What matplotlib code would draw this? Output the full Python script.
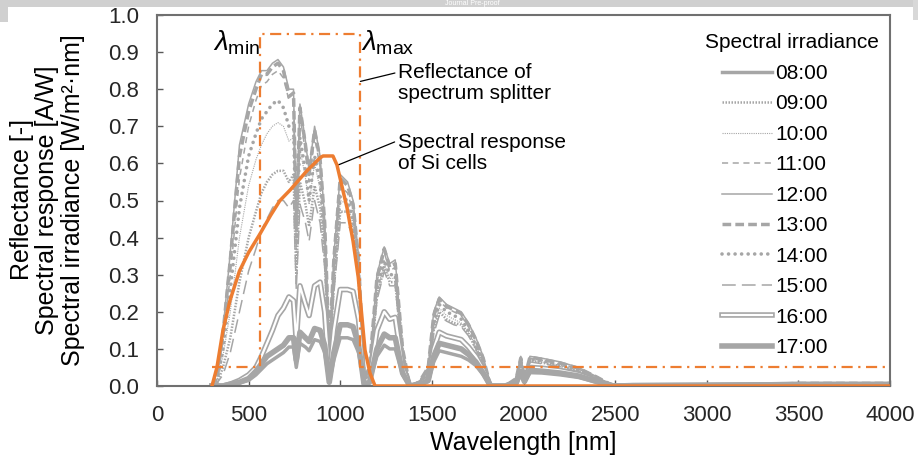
import matplotlib
matplotlib.use("Agg")
import matplotlib.pyplot as plt
from matplotlib.lines import Line2D
from matplotlib.legend_handler import HandlerTuple
from matplotlib.patches import Rectangle

plt.rcParams['font.family'] = ['Liberation Sans', 'DejaVu Sans']
plt.rcParams['mathtext.fontset'] = 'custom'
plt.rcParams['mathtext.rm'] = 'Liberation Sans'
plt.rcParams['mathtext.it'] = 'Liberation Sans:italic'

# ---------------- data ----------------
wavelength = [300, 330, 360, 400, 450, 500, 540, 570, 600, 630,
              660, 690, 720, 745, 760, 780, 810, 830, 860, 890,
              915, 940, 965, 1000, 1040, 1070, 1100, 1130, 1160, 1200,
              1240, 1270, 1300, 1340, 1380, 1430, 1480, 1510, 1540, 1580,
              1620, 1660, 1700, 1740, 1780, 1820, 1900, 1960, 1985, 2005,
              2035, 2100, 2200, 2300, 2400, 2490, 2600, 3000, 3300, 3500,
              4000]

irr_0800 = [0.00, 0.00, 0.00, 0.003, 0.008, 0.015, 0.03, 0.045, 0.06, 0.07,
            0.08, 0.09, 0.105, 0.105, 0.05, 0.115, 0.105, 0.095, 0.125, 0.12,
            0.09, 0.01, 0.07, 0.13, 0.13, 0.125, 0.09, 0.005, 0.01, 0.08,
            0.11, 0.10, 0.10, 0.03, 0.00, 0.003, 0.012, 0.065, 0.095, 0.09,
            0.085, 0.08, 0.07, 0.055, 0.03, 0.00, 0.00, 0.006, 0.035, 0.01,
            0.036, 0.035, 0.03, 0.023, 0.01, 0.00, 0.001, 0.002, 0.003, 0.004,
            0.004]
irr_0900 = [0.00, 0.01, 0.05, 0.13, 0.28, 0.40, 0.47, 0.52, 0.55, 0.57,
            0.58, 0.58, 0.55, 0.57, 0.30, 0.55, 0.49, 0.43, 0.54, 0.48,
            0.35, 0.07, 0.27, 0.47, 0.47, 0.42, 0.29, 0.02, 0.04, 0.24,
            0.32, 0.28, 0.28, 0.08, 0.00, 0.01, 0.04, 0.15, 0.20, 0.18,
            0.17, 0.165, 0.14, 0.10, 0.06, 0.00, 0.00, 0.015, 0.06, 0.02,
            0.068, 0.063, 0.054, 0.04, 0.018, 0.00, 0.002, 0.003, 0.004, 0.006,
            0.006]
irr_1000 = [0.00, 0.02, 0.08, 0.20, 0.40, 0.54, 0.61, 0.65, 0.68, 0.70,
            0.71, 0.70, 0.66, 0.67, 0.36, 0.64, 0.56, 0.49, 0.60, 0.53,
            0.38, 0.08, 0.29, 0.50, 0.49, 0.44, 0.30, 0.02, 0.04, 0.25,
            0.33, 0.29, 0.29, 0.08, 0.00, 0.01, 0.04, 0.16, 0.21, 0.19,
            0.18, 0.17, 0.145, 0.11, 0.06, 0.00, 0.00, 0.015, 0.065, 0.02,
            0.07, 0.065, 0.056, 0.042, 0.02, 0.00, 0.002, 0.003, 0.004, 0.006,
            0.006]
irr_1100 = [0.00, 0.03, 0.12, 0.30, 0.56, 0.70, 0.77, 0.81, 0.82, 0.84,
            0.85, 0.83, 0.77, 0.77, 0.42, 0.73, 0.63, 0.55, 0.67, 0.59,
            0.42, 0.09, 0.32, 0.54, 0.52, 0.47, 0.33, 0.02, 0.04, 0.28,
            0.36, 0.31, 0.32, 0.09, 0.00, 0.01, 0.04, 0.18, 0.23, 0.21,
            0.20, 0.19, 0.16, 0.12, 0.07, 0.00, 0.00, 0.02, 0.07, 0.02,
            0.075, 0.07, 0.06, 0.046, 0.022, 0.00, 0.002, 0.003, 0.004, 0.007,
            0.007]
irr_1200 = [0.00, 0.04, 0.15, 0.36, 0.65, 0.76, 0.82, 0.85, 0.85, 0.87,
            0.88, 0.86, 0.80, 0.80, 0.45, 0.76, 0.66, 0.58, 0.70, 0.62,
            0.45, 0.10, 0.35, 0.57, 0.55, 0.50, 0.35, 0.02, 0.05, 0.30,
            0.375, 0.33, 0.34, 0.10, 0.00, 0.01, 0.05, 0.20, 0.24, 0.22,
            0.21, 0.20, 0.17, 0.13, 0.08, 0.00, 0.00, 0.02, 0.08, 0.02,
            0.08, 0.075, 0.065, 0.05, 0.025, 0.00, 0.002, 0.003, 0.004, 0.008,
            0.008]
irr_1300 = [0.00, 0.03, 0.14, 0.34, 0.62, 0.74, 0.80, 0.84, 0.84, 0.86,
            0.87, 0.85, 0.78, 0.79, 0.43, 0.75, 0.65, 0.57, 0.69, 0.61,
            0.44, 0.09, 0.34, 0.56, 0.54, 0.49, 0.34, 0.02, 0.05, 0.29,
            0.37, 0.32, 0.33, 0.10, 0.00, 0.01, 0.05, 0.19, 0.235, 0.215,
            0.205, 0.195, 0.165, 0.125, 0.075, 0.00, 0.00, 0.02, 0.075, 0.02,
            0.078, 0.072, 0.062, 0.048, 0.024, 0.00, 0.002, 0.003, 0.004, 0.007,
            0.007]
irr_1400 = [0.00, 0.02, 0.10, 0.26, 0.48, 0.62, 0.68, 0.72, 0.74, 0.76,
            0.77, 0.75, 0.70, 0.71, 0.38, 0.67, 0.58, 0.50, 0.62, 0.55,
            0.39, 0.08, 0.30, 0.51, 0.50, 0.45, 0.31, 0.02, 0.04, 0.26,
            0.34, 0.30, 0.30, 0.09, 0.00, 0.01, 0.04, 0.17, 0.22, 0.20,
            0.19, 0.18, 0.15, 0.11, 0.065, 0.00, 0.00, 0.015, 0.07, 0.02,
            0.072, 0.068, 0.058, 0.044, 0.02, 0.00, 0.002, 0.003, 0.004, 0.006,
            0.006]
irr_1500 = [0.00, 0.01, 0.03, 0.09, 0.20, 0.31, 0.37, 0.42, 0.45, 0.48,
            0.50, 0.50, 0.48, 0.50, 0.26, 0.49, 0.44, 0.39, 0.50, 0.44,
            0.32, 0.06, 0.25, 0.44, 0.44, 0.40, 0.28, 0.02, 0.03, 0.23,
            0.31, 0.27, 0.27, 0.07, 0.00, 0.01, 0.03, 0.14, 0.19, 0.175,
            0.165, 0.16, 0.135, 0.10, 0.055, 0.00, 0.00, 0.012, 0.058, 0.02,
            0.065, 0.06, 0.052, 0.038, 0.017, 0.00, 0.002, 0.003, 0.004, 0.005,
            0.005]
irr_1600 = [0.00, 0.00, 0.00, 0.005, 0.015, 0.03, 0.05, 0.08, 0.115, 0.15,
            0.19, 0.21, 0.24, 0.23, 0.12, 0.27, 0.22, 0.19, 0.27, 0.28,
            0.20, 0.02, 0.15, 0.26, 0.26, 0.255, 0.18, 0.01, 0.02, 0.15,
            0.20, 0.18, 0.185, 0.05, 0.00, 0.005, 0.02, 0.10, 0.145, 0.135,
            0.13, 0.125, 0.105, 0.08, 0.045, 0.00, 0.00, 0.01, 0.045, 0.015,
            0.05, 0.048, 0.042, 0.032, 0.014, 0.00, 0.001, 0.002, 0.003, 0.004,
            0.004]
irr_1700 = [0.00, 0.00, 0.00, 0.005, 0.01, 0.02, 0.04, 0.06, 0.08, 0.09,
            0.10, 0.11, 0.13, 0.13, 0.07, 0.145, 0.13, 0.12, 0.155, 0.15,
            0.11, 0.01, 0.09, 0.165, 0.165, 0.16, 0.11, 0.005, 0.01, 0.10,
            0.14, 0.13, 0.13, 0.035, 0.00, 0.003, 0.015, 0.08, 0.115, 0.11,
            0.105, 0.10, 0.085, 0.065, 0.035, 0.00, 0.00, 0.008, 0.04, 0.012,
            0.042, 0.04, 0.035, 0.027, 0.012, 0.00, 0.001, 0.002, 0.003, 0.004,
            0.004]

refl_wl = [300, 560, 560, 1110, 1110, 4000]
refl_val = [0.05, 0.05, 0.95, 0.95, 0.05, 0.05]

si_wl = [300, 327, 360, 398, 450, 500, 562, 620, 671, 726, 818, 890, 906, 960,
         982, 1037, 1070, 1098, 1135, 1162, 1190, 4000]
si_val = [0.0, 0.05, 0.15, 0.23, 0.31, 0.36, 0.41, 0.46, 0.50, 0.528, 0.58, 0.615,
          0.62, 0.62, 0.596, 0.48, 0.39, 0.294, 0.097, 0.035, 0.0, 0.0]

hours = ['08:00', '09:00', '10:00', '11:00', '12:00',
         '13:00', '14:00', '15:00', '16:00', '17:00']
yticks = [0.0, 0.1, 0.2, 0.3, 0.4, 0.5, 0.6, 0.7, 0.8, 0.9, 1.0]
xticks = [0, 500, 1000, 1500, 2000, 2500, 3000, 3500, 4000]

# ---------------- figure ----------------
GRAY = '#A6A6A6'
ORANGE = '#ED7D31'

fig = plt.figure(figsize=(9.18, 4.68), dpi=100)
# page artefact at top
fig.patches.append(Rectangle((0, 1 - 7 / 468), 1, 7 / 468, transform=fig.transFigure,
                             facecolor='#D0D0D0', edgecolor='none', zorder=0))
fig.patches.append(Rectangle((0, 1 - 22 / 468), 8 / 918, 22 / 468, transform=fig.transFigure,
                             facecolor='#D0D0D0', edgecolor='none', zorder=0))
fig.patches.append(Rectangle((1 - 5 / 918, 1 - 20 / 468), 5 / 918, 20 / 468,
                             transform=fig.transFigure,
                             facecolor='#D8D8D8', edgecolor='none', zorder=0))
fig.text(0.515, 1 - 3.5 / 468, 'Journal Pre-proof', color='white', fontsize=5,
         ha='center', va='center')

ax = fig.add_axes([157 / 918, 1 - 386 / 468, (890 - 157) / 918, (386 - 15) / 468])

series = [irr_0800, irr_0900, irr_1000, irr_1100, irr_1200,
          irr_1300, irr_1400, irr_1500, irr_1600, irr_1700]
styles = [
    dict(lw=2.5, ls='-'),
    dict(lw=1.8, ls=(0, (0.6, 0.6))),
    dict(lw=0.8, ls=(0, (1, 1))),
    dict(lw=1.1, ls=(0, (4, 3))),
    dict(lw=1.1, ls='-'),
    dict(lw=2.5, ls=(0, (2.5, 1.2))),
    dict(lw=2.6, ls=(0, (0.01, 1.8)), dash_capstyle='round'),
    dict(lw=1.1, ls=(0, (9, 4))),
    None,
    dict(lw=4.0, ls='-'),
]
handles = []
for vals, st, lab in zip(series, styles, hours):
    if st is None:
        ax.plot(wavelength, vals, color=GRAY, lw=4.0, zorder=2)
        ax.plot(wavelength, vals, color='white', lw=1.6, zorder=2)
        h = (Line2D([], [], color=GRAY, lw=4.0), Line2D([], [], color='white', lw=1.6))
    else:
        line, = ax.plot(wavelength, vals, color=GRAY, zorder=2, **st)
        h = line
    handles.append(h)

ax.plot(refl_wl, refl_val, color=ORANGE, lw=1.6, ls=(0, (5, 2.5, 1, 2.5)), zorder=3)
ax.plot(si_wl, si_val, color=ORANGE, lw=2.5, zorder=4, solid_joinstyle='round')

ax.set_xlim(0, 4000)
ax.set_ylim(0, 1.0)
ax.set_xticks(xticks)
ax.set_yticks(yticks)
ax.set_yticklabels([f'{v:.1f}' for v in yticks])
ax.tick_params(direction='in', length=4, width=1, color='#595959',
               labelsize=16, labelcolor='#262626')
ax.tick_params(axis='y', pad=13)
ax.tick_params(axis='x', pad=13.5)
for sp in ax.spines.values():
    sp.set_color('#707070')
    sp.set_linewidth(1.5)

ax.set_xlabel('Wavelength [nm]', fontsize=18, labelpad=4)
for xpx, txt in [(22, 'Reflectance [-]'), (47, 'Spectral response [A/W]'),
                 (73, 'Spectral irradiance [W/m²·nm]')]:
    fig.text(xpx / 918, 1 - 200 / 468, txt, rotation=90, fontsize=18,
             ha='center', va='center')

# lambda labels
ax.text(562, 0.925, r'$\mathit{\lambda}_{\rm min}$', fontsize=20, ha='right', va='center')
ax.text(1112, 0.925, r'$\mathit{\lambda}_{\rm max}$', fontsize=20, ha='left', va='center')

# annotations
ax.annotate('Reflectance of\nspectrum splitter', xy=(1110, 0.821), xytext=(1315, 0.817),
            fontsize=15, ha='left', va='center', linespacing=1.1,
            arrowprops=dict(arrowstyle='-', color='black', lw=0.9,
                            shrinkA=0, shrinkB=0, relpos=(-0.02, 0.75)))
ax.annotate('Spectral response\nof Si cells', xy=(985, 0.595), xytext=(1315, 0.628),
            fontsize=15, ha='left', va='center', linespacing=1.1,
            arrowprops=dict(arrowstyle='-', color='black', lw=0.9,
                            shrinkA=0, shrinkB=0, relpos=(-0.02, 0.78)))

# legend (title placed separately to match the reference alignment)
ax.text((792 - 157) / 733, (386 - 42) / 371, 'Spectral irradiance', transform=ax.transAxes,
        fontsize=15, ha='center', va='center')
leg = ax.legend(handles, hours, loc='upper left',
                bbox_to_anchor=((722 - 157) / 733, (386 - 64) / 371), frameon=False,
                fontsize=15, handlelength=2.4, handletextpad=0.15,
                labelspacing=0.55, borderaxespad=0, borderpad=0,
                handler_map={tuple: HandlerTuple(ndivide=1)})

fig.savefig('out.png', dpi=100)
